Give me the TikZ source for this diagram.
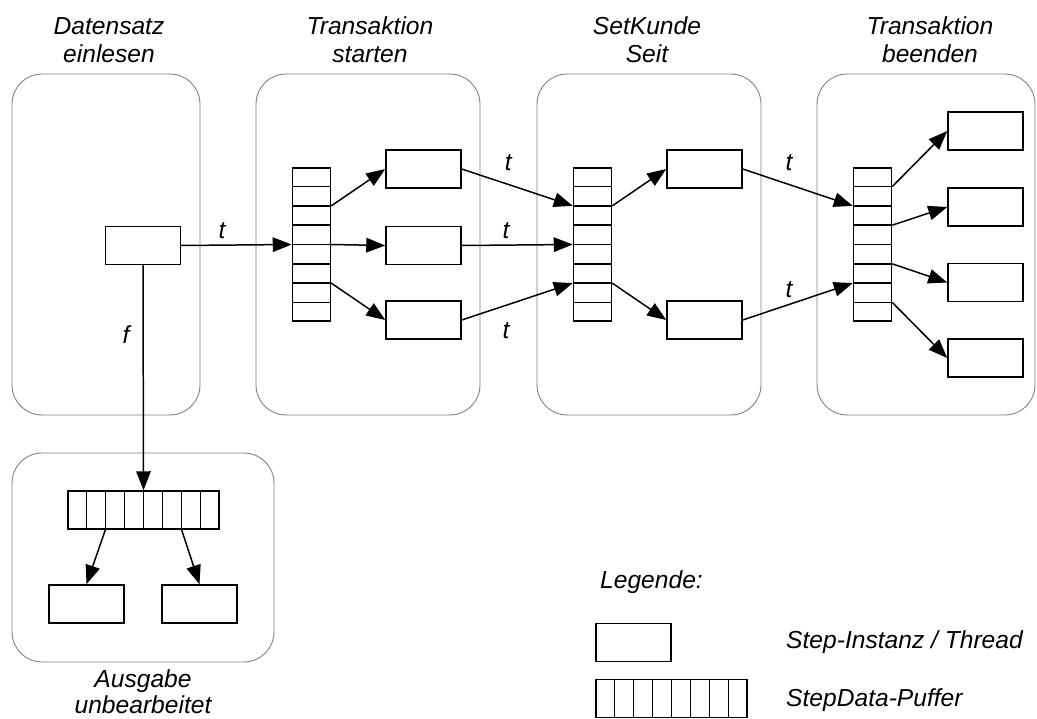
\documentclass[tikz,border=0pt]{standalone}
\usepackage{fontspec}
\setmainfont{Liberation Sans}
\usetikzlibrary{arrows.meta,calc}

\tikzset{
  stage/.style={draw=gray,rounded corners=0.6cm,line width=0.5pt},
  title/.style={align=center,font=\fontsize{14}{16}\selectfont\itshape},
  stepbox/.style={draw,line width=0.85pt,minimum width=1.5cm,minimum height=0.76cm,inner sep=0pt},
  vbuf/.style={draw,line width=0.85pt,minimum width=0.76cm,minimum height=3.06cm,inner sep=0pt},
  hbuf/.style={draw,line width=0.85pt,minimum width=3.02cm,minimum height=0.76cm,inner sep=0pt},
  conn/.style={line width=0.85pt,-{Triangle[length=0.38cm,width=0.29cm]}},
  lbl/.style={font=\fontsize{14}{16}\selectfont\itshape}
}

% cell lines of a buffer
\newcommand{\vcells}[1]{\foreach \i in {1,...,7} \draw[line width=0.85pt] ($(#1.north west)!\i/8!(#1.south west)$) -- ($(#1.north east)!\i/8!(#1.south east)$);}
\newcommand{\hcells}[1]{\foreach \i in {1,...,7} \draw[line width=0.85pt] ($(#1.north west)!\i/8!(#1.north east)$) -- ($(#1.south west)!\i/8!(#1.south east)$);}

\begin{document}
\begin{tikzpicture}[x=0.02cm,y=-0.02cm]
		\useasboundingbox (0,0) rectangle (1037,719);
		
		% Stages
		\node[stage,minimum width=3.76cm,minimum height=6.82cm] (st1) at (106,244.5) {};
		\node[stage,minimum width=4.48cm,minimum height=6.82cm] (st2) at (368,244.5) {};
		\node[stage,minimum width=4.48cm,minimum height=6.82cm] (st3) at (649,244.5) {};
		\node[stage,minimum width=4.36cm,minimum height=6.82cm] (st4) at (926,244.5) {};
		\node[stage,minimum width=5.24cm,minimum height=4.18cm] (st5) at (143,557.5) {};
		
		% Titles
		\node[title] (t1) at (109,40) {Datensatz\\einlesen};
		\node[title] (t2) at (370,40) {Transaktion\\starten};
		\node[title] (t3) at (647,40) {SetKunde\\Seit};
		\node[title] (t4) at (930,40) {Transaktion\\beenden};
		\node[title,font=\fontsize{14}{15}\selectfont\itshape] (t5) at (143,692) {Ausgabe\\unbearbeitet};
		
		% Steps
		\node[stepbox] (s1) at (143,245.5) {};
		\node[stepbox] (s2a) at (423.5,169) {};
		\node[stepbox] (s2b) at (423.5,245.5) {};
		\node[stepbox] (s2c) at (423.5,320) {};
		\node[stepbox] (s3a) at (704.5,169) {};
		\node[stepbox] (s3b) at (704.5,320) {};
		\node[stepbox] (s4a) at (985.5,131) {};
		\node[stepbox] (s4b) at (985.5,207) {};
		\node[stepbox] (s4c) at (985.5,282.5) {};
		\node[stepbox] (s4d) at (985.5,358) {};
		\node[stepbox] (s5a) at (86.5,604) {};
		\node[stepbox] (s5b) at (199.5,604) {};
		
		% Buffers
		\node[vbuf] (b2) at (311.5,244.5) {};
		\node[vbuf] (b3) at (592.5,244.5) {};
		\node[vbuf] (b4) at (872.5,244.5) {};
		\node[hbuf] (b5) at (143.5,510) {};
		\vcells{b2}
		\vcells{b3}
		\vcells{b4}
		\hcells{b5}
		
		% Connectors
		\draw[conn] (s1.east) -- node[lbl,pos=0.37,above] {t} (b2.west);
		\draw[conn] (s1.south) -- node[lbl,pos=0.31,left=4pt] {f} (b5.north);
		
		\draw[conn] ($(b2.north east)!2/8!(b2.south east)$) -- (s2a.west);
		\draw[conn] (b2.east) -- (s2b.west);
		\draw[conn] ($(b2.north east)!6/8!(b2.south east)$) -- (s2c.west);
		
		\draw[conn] (s2a.east) -- node[lbl,pos=0.42,above=4pt] {t} ($(b3.north west)!2/8!(b3.south west)$);
		\draw[conn] (s2b.east) -- node[lbl,pos=0.4,above] {t} (b3.west);
		\draw[conn] (s2c.east) -- node[lbl,pos=0.4,below=6pt] {t} ($(b3.north west)!6/8!(b3.south west)$);
		
		\draw[conn] ($(b3.north east)!2/8!(b3.south east)$) -- (s3a.west);
		\draw[conn] ($(b3.north east)!6/8!(b3.south east)$) -- (s3b.west);
		
		\draw[conn] (s3a.east) -- node[lbl,pos=0.42,above=4pt] {t} ($(b4.north west)!2/8!(b4.south west)$);
		\draw[conn] (s3b.east) -- node[lbl,pos=0.42,above] {t} ($(b4.north west)!6/8!(b4.south west)$);
		
		\draw[conn] ($(b4.north east)!1/8!(b4.south east)$) -- (s4a.west);
		\draw[conn] ($(b4.north east)!3/8!(b4.south east)$) -- (s4b.west);
		\draw[conn] ($(b4.north east)!5/8!(b4.south east)$) -- (s4c.west);
		\draw[conn] ($(b4.north east)!7/8!(b4.south east)$) -- (s4d.west);
		
		\draw[conn] ($(b5.south west)!2/8!(b5.south east)$) -- (s5a.north);
		\draw[conn] ($(b5.south west)!6/8!(b5.south east)$) -- (s5b.north);
		
		% Legend
		\node[lbl,anchor=west] (leg) at (594,582) {Legende:};
		\node[stepbox] (lstep) at (633.5,642.5) {};
		\node[hbuf] (lbuf) at (671.5,698.5) {};
		\hcells{lbuf}
		\node[lbl,anchor=west] (lsteptxt) at (780,642.5) {Step-Instanz / Thread};
		\node[lbl,anchor=west] (lbuftxt) at (780,700) {StepData-Puffer};
		
\end{tikzpicture}
\end{document}
